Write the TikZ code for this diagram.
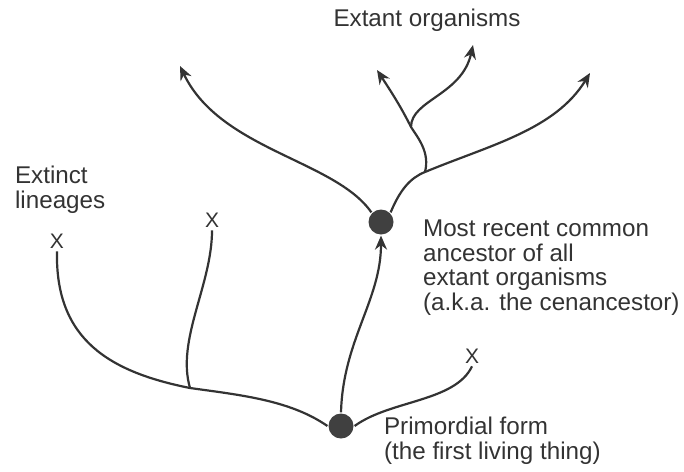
\documentclass[tikz,border=0pt]{standalone}
\usepackage{fontspec}
\setmainfont{Liberation Sans}
\usetikzlibrary{arrows.meta}

\begin{document}
\begin{tikzpicture}[x=0.5pt, y=-0.5pt,
    line width=1.1pt, draw=black!80,
    dot/.style={circle, fill=black!75, inner sep=0pt, minimum size=12.5pt},
    xmark/.style={inner sep=1pt, text=black!80, font=\fontsize{10.5}{11}\selectfont},
    lbl/.style={inner sep=0pt, text=black!80, align=left, font=\fontsize{12.1}{12.3}\selectfont},
    arr/.style={-{Stealth[length=7pt, width=6pt]}}]
  \useasboundingbox (0,0) rectangle (684,471);

  % Ancestors
  \node[dot] (prim) at (341,426) {};
  \node[dot] (mrca) at (381,222) {};

  % Extinct ends
  \node[xmark] (xa) at (57,241) {X};
  \node[xmark] (xb) at (212,220) {X};
  \node[xmark] (xc) at (472,356) {X};

  % Branch points and tips
  \coordinate (j1) at (190,388);
  \coordinate (j2) at (425,172);
  \coordinate (j3) at (411,127);
  \coordinate (e1) at (180,66);
  \coordinate (e2) at (377,70);
  \coordinate (e3) at (473,45);
  \coordinate (e4) at (590,73);

  % Primordial form to the cenancestor
  \draw[arr] (prim.north) .. controls (343,340) and (381,300) .. (mrca.south);

  % Extinct lineages
  \draw (prim.west) .. controls (290,400) and (240,395) .. (j1);
  \draw (j1) .. controls (110,372) and (55,340) .. (xa.south);
  \draw (j1) .. controls (176,340) and (212,285) .. (xb.south);
  \draw (prim.east) .. controls (390,400) and (455,402) .. (xc.south);

  % Extant organisms
  \draw[arr] (mrca.north west) .. controls (335,160) and (220,150) .. (e1);
  \draw[arr] (mrca.north east) .. controls (400,190) and (410,178) .. (j2)
    .. controls (490,145) and (555,130) .. (e4);
  \draw[arr] (j2) .. controls (430,152) and (418,138) .. (j3)
    .. controls (400,105) and (390,90) .. (e2);
  \draw[arr] (j3) .. controls (411,100) and (462,95) .. (e3);

  % Labels
  \node[lbl] (ext) at (427,20) {Extant organisms};
  \node[lbl, anchor=west] (extinct) at (14,190) {Extinct\\lineages};
  \node[lbl, anchor=north west] (mrcalbl) at (422,219)
    {Most recent common\\ancestor of all\\extant organisms\\(a.k.a. the cenancestor)};
  \node[lbl, anchor=north west] (primlbl) at (383,416)
    {Primordial form\\(the first living thing)};
\end{tikzpicture}
\end{document}
